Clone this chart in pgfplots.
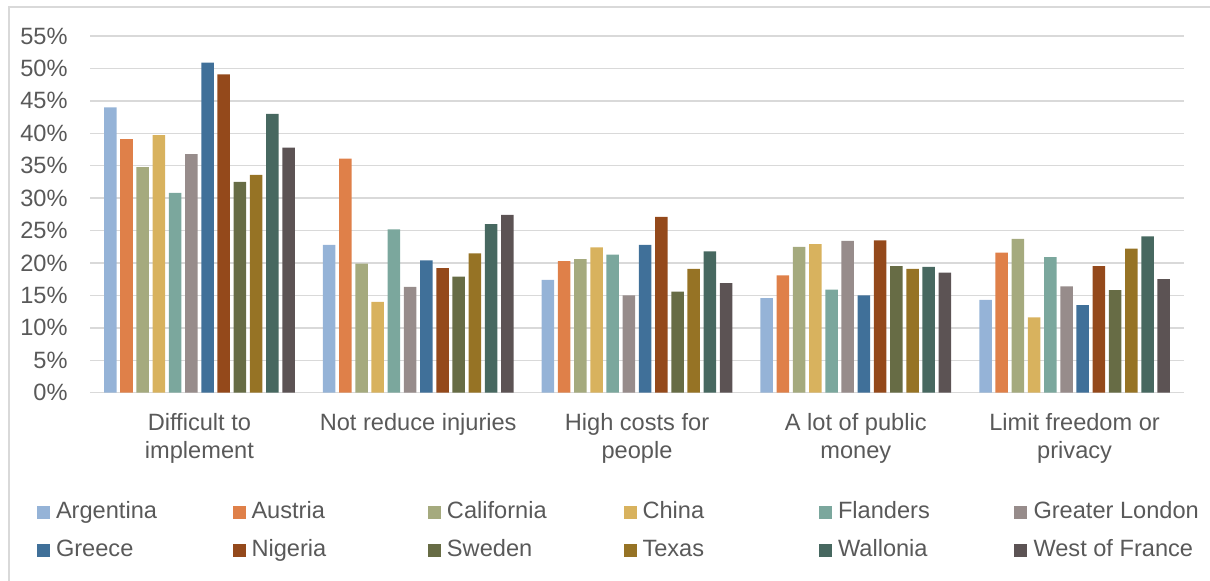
\documentclass[border=0pt]{standalone}
\usepackage{pgfplots}
\pgfplotsset{compat=1.18}
\usepackage{fontspec}
\setmainfont{Liberation Sans}

\definecolor{txt}{HTML}{595959}
\definecolor{gridc}{HTML}{D9D9D9}
\definecolor{cArg}{HTML}{95B3D7}
\definecolor{cAut}{HTML}{DF8049}
\definecolor{cCal}{HTML}{A5AA7E}
\definecolor{cChi}{HTML}{D8B25E}
\definecolor{cFla}{HTML}{7BA79D}
\definecolor{cLon}{HTML}{978C8B}
\definecolor{cGre}{HTML}{407099}
\definecolor{cNig}{HTML}{94491B}
\definecolor{cSwe}{HTML}{676C45}
\definecolor{cTex}{HTML}{967325}
\definecolor{cWal}{HTML}{476860}
\definecolor{cWoF}{HTML}{5C5354}

\pgfplotsset{
  sq/.style={fill=#1, draw=none,
    /pgfplots/legend image code/.code={\fill[#1] (0pt,0pt) rectangle (6.5pt,6.5pt);}},
}
\newcommand{\entry}[1]{\hspace{3pt}\makebox[88.25pt][l]{\strut #1}}

\begin{document}
\begin{tikzpicture}
\useasboundingbox (0pt,0pt) rectangle (605pt,-290.5pt);
\draw[gridc, line width=0.75pt] (4.5pt,-3.5pt) rectangle (700pt,-400pt);
\begin{axis}[
  at={(45pt,-196.35pt)}, anchor=south west,
  scale only axis, width=547pt, height=178.35pt,
  ybar=1.85pt, bar width=6.25pt,
  xmin=-0.5, xmax=4.5, ymin=0, ymax=55,
  xtick={0,1,2,3,4},
  xticklabels={{Difficult to\\implement},{Not reduce injuries},{High costs for\\people},{A lot of public\\money},{Limit freedom or\\privacy}},
  ytick={0,5,...,55},
  yticklabel={\pgfmathprintnumber{\tick}\%},
  /pgf/number format/assume math mode=true,
  ymajorgrids, grid style={gridc, line width=0.75pt},
  axis line style={draw=none},
  major tick length=0pt,
  tick label style={font=\fontsize{11.8}{14}\selectfont, text=txt},
  yticklabel style={anchor=east, inner sep=0pt, xshift=-11pt},
  xticklabel style={anchor=north, inner sep=0pt, yshift=-10pt, align=center},
  legend columns=6,
  legend style={at={(-0.04845,-0.2795)}, anchor=north west, draw=none, fill=none,
    inner sep=0pt, outer sep=0pt, column sep=0pt, row sep=4pt,
    font=\fontsize{11.8}{19}\selectfont, text=txt,
    nodes={inner sep=0pt, outer sep=0pt}, cells={anchor=base west}},
]
\addplot[sq=cArg] coordinates {(0,44.0) (1,22.8) (2,17.4) (3,14.6) (4,14.3)};
\addlegendentry{\entry{Argentina}}
\addplot[sq=cAut] coordinates {(0,39.1) (1,36.1) (2,20.3) (3,18.1) (4,21.6)};
\addlegendentry{\entry{Austria}}
\addplot[sq=cCal] coordinates {(0,34.8) (1,19.9) (2,20.6) (3,22.5) (4,23.7)};
\addlegendentry{\entry{California}}
\addplot[sq=cChi] coordinates {(0,39.7) (1,14.0) (2,22.4) (3,22.9) (4,11.6)};
\addlegendentry{\entry{China}}
\addplot[sq=cFla] coordinates {(0,30.8) (1,25.2) (2,21.3) (3,15.9) (4,20.9)};
\addlegendentry{\entry{Flanders}}
\addplot[sq=cLon] coordinates {(0,36.8) (1,16.3) (2,15.0) (3,23.4) (4,16.4)};
\addlegendentry{\entry{Greater London}}
\addplot[sq=cGre] coordinates {(0,50.9) (1,20.4) (2,22.8) (3,15.0) (4,13.5)};
\addlegendentry{\entry{Greece}}
\addplot[sq=cNig] coordinates {(0,49.1) (1,19.2) (2,27.1) (3,23.5) (4,19.5)};
\addlegendentry{\entry{Nigeria}}
\addplot[sq=cSwe] coordinates {(0,32.5) (1,17.9) (2,15.6) (3,19.5) (4,15.8)};
\addlegendentry{\entry{Sweden}}
\addplot[sq=cTex] coordinates {(0,33.6) (1,21.5) (2,19.1) (3,19.1) (4,22.2)};
\addlegendentry{\entry{Texas}}
\addplot[sq=cWal] coordinates {(0,43.0) (1,26.0) (2,21.8) (3,19.4) (4,24.1)};
\addlegendentry{\entry{Wallonia}}
\addplot[sq=cWoF] coordinates {(0,37.8) (1,27.4) (2,16.9) (3,18.5) (4,17.5)};
\addlegendentry{\entry{West of France}}
\end{axis}
\end{tikzpicture}
\end{document}
